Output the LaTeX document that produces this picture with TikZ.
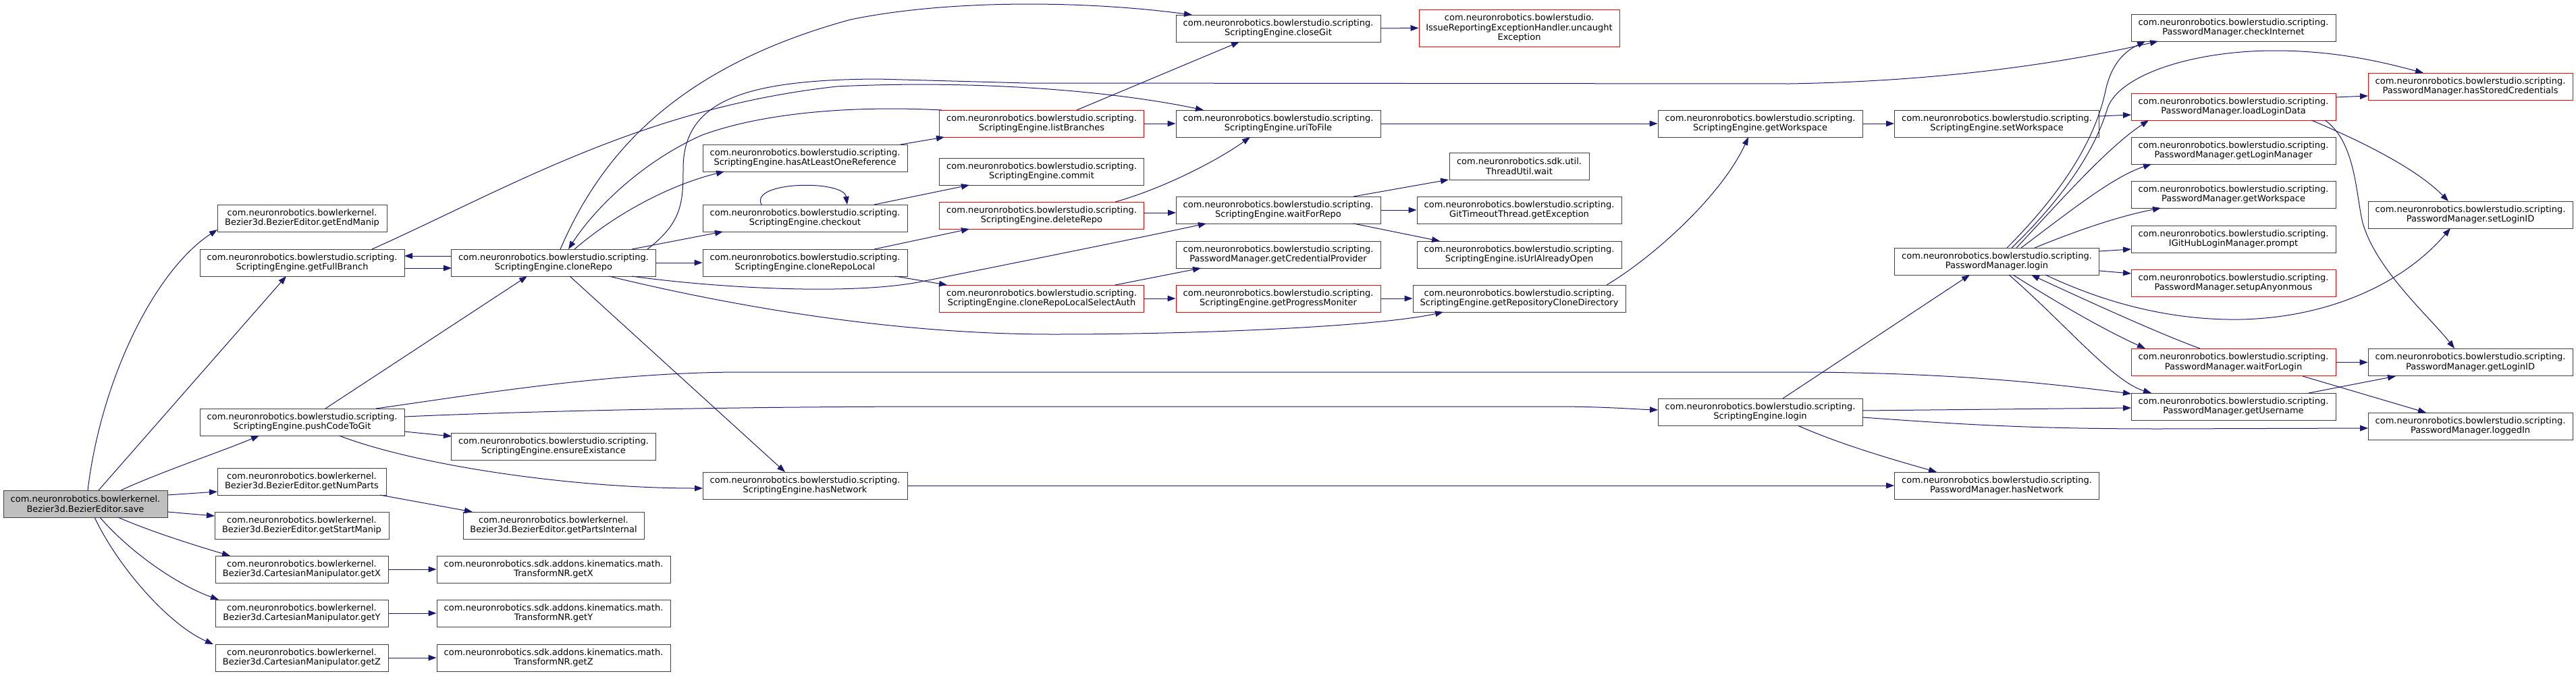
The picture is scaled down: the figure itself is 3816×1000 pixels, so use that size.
\documentclass[tikz,border=0pt]{standalone}
\usepackage{fontspec}
\usetikzlibrary{arrows.meta,calc}
\newfontfamily\djv{DejaVu Sans}
\definecolor{edgec}{HTML}{191970}
\definecolor{boxc}{HTML}{404040}
\definecolor{rootfill}{HTML}{BFBFBF}
\tikzset{
  nd/.style={draw=boxc, line width=0.75pt, fill=white, inner sep=0pt, minimum height=30pt,
    align=center, text=black, font={\djv\fontsize{9.75}{11}\selectfont}},
  trunc/.style={nd, draw=red},
  root/.style={nd, fill=rootfill},
  wd/.style={minimum width=#1*0.75pt},
  ed/.style={draw=edgec, line width=0.75pt, -{Triangle[length=9pt,width=6.5pt]}},
}
\begin{document}
\begin{tikzpicture}[x=0.75pt,y=-0.75pt]
\fill[white] (0,0) rectangle (3816,1000);
\useasboundingbox (0,0) rectangle (3816,1000);
% column 0-1
\node[root, wd=243] (save) at (126.5,746) {com.neuronrobotics.bowlerkernel.\\Bezier3d.BezierEditor.save};
\node[nd, wd=251] (endmanip) at (447.5,323) {com.neuronrobotics.bowlerkernel.\\Bezier3d.BezierEditor.getEndManip};
\node[nd, wd=303] (fullbranch) at (447.5,389) {com.neuronrobotics.bowlerstudio.scripting.\\ScriptingEngine.getFullBranch};
\node[nd, wd=303] (push) at (447.5,625) {com.neuronrobotics.bowlerstudio.scripting.\\ScriptingEngine.pushCodeToGit};
\node[nd, wd=250] (numparts) at (447,713) {com.neuronrobotics.bowlerkernel.\\Bezier3d.BezierEditor.getNumParts};
\node[nd, wd=258] (startmanip) at (447,778) {com.neuronrobotics.bowlerkernel.\\Bezier3d.BezierEditor.getStartManip};
\node[nd, wd=256] (cx) at (447,843) {com.neuronrobotics.bowlerkernel.\\Bezier3d.CartesianManipulator.getX};
\node[nd, wd=256] (cy) at (447,908) {com.neuronrobotics.bowlerkernel.\\Bezier3d.CartesianManipulator.getY};
\node[nd, wd=256] (cz) at (447,974) {com.neuronrobotics.bowlerkernel.\\Bezier3d.CartesianManipulator.getZ};
% column 2
\node[nd, wd=303] (clone) at (820,389) {com.neuronrobotics.bowlerstudio.scripting.\\ScriptingEngine.cloneRepo};
\node[nd, wd=303] (ensure) at (820,661) {com.neuronrobotics.bowlerstudio.scripting.\\ScriptingEngine.ensureExistance};
\node[nd, wd=268] (partsint) at (820,778) {com.neuronrobotics.bowlerkernel.\\Bezier3d.BezierEditor.getPartsInternal};
\node[nd, wd=346] (tx) at (820,843) {com.neuronrobotics.sdk.addons.kinematics.math.\\TransformNR.getX};
\node[nd, wd=346] (ty) at (820,908) {com.neuronrobotics.sdk.addons.kinematics.math.\\TransformNR.getY};
\node[nd, wd=346] (tz) at (820,974) {com.neuronrobotics.sdk.addons.kinematics.math.\\TransformNR.getZ};
% column 3
\node[nd, wd=303] (hasref) at (1192.5,234) {com.neuronrobotics.bowlerstudio.scripting.\\ScriptingEngine.hasAtLeastOneReference};
\node[nd, wd=303] (checkout) at (1192.5,323) {com.neuronrobotics.bowlerstudio.scripting.\\ScriptingEngine.checkout};
\node[nd, wd=303] (clonelocal) at (1192.5,389) {com.neuronrobotics.bowlerstudio.scripting.\\ScriptingEngine.cloneRepoLocal};
\node[nd, wd=303] (sehasnet) at (1192.5,719) {com.neuronrobotics.bowlerstudio.scripting.\\ScriptingEngine.hasNetwork};
% column 4
\node[trunc, wd=303] (listbr) at (1543,183) {com.neuronrobotics.bowlerstudio.scripting.\\ScriptingEngine.listBranches};
\node[nd, wd=303] (commit) at (1543,254) {com.neuronrobotics.bowlerstudio.scripting.\\ScriptingEngine.commit};
\node[trunc, wd=303] (deleterepo) at (1543,319) {com.neuronrobotics.bowlerstudio.scripting.\\ScriptingEngine.deleteRepo};
\node[trunc, wd=303] (selectauth) at (1543,442) {com.neuronrobotics.bowlerstudio.scripting.\\ScriptingEngine.cloneRepoLocalSelectAuth};
% column 5
\node[nd, wd=303] (closegit) at (1893.5,42) {com.neuronrobotics.bowlerstudio.scripting.\\ScriptingEngine.closeGit};
\node[nd, wd=303] (uritofile) at (1893.5,183) {com.neuronrobotics.bowlerstudio.scripting.\\ScriptingEngine.uriToFile};
\node[nd, wd=303] (waitrepo) at (1893.5,311) {com.neuronrobotics.bowlerstudio.scripting.\\ScriptingEngine.waitForRepo};
\node[nd, wd=303] (credprov) at (1893.5,377) {com.neuronrobotics.bowlerstudio.scripting.\\PasswordManager.getCredentialProvider};
\node[trunc, wd=303] (progmon) at (1893.5,442) {com.neuronrobotics.bowlerstudio.scripting.\\ScriptingEngine.getProgressMoniter};
% column 6
\node[trunc, wd=297, minimum height=41.25pt] (uncaught) at (2250.5,41.5) {com.neuronrobotics.bowlerstudio.\\IssueReportingExceptionHandler.uncaught\\Exception};
\node[nd, wd=207] (threadwait) at (2250.5,246) {com.neuronrobotics.sdk.util.\\ThreadUtil.wait};
\node[nd, wd=303] (gitto) at (2250.5,311) {com.neuronrobotics.bowlerstudio.scripting.\\GitTimeoutThread.getException};
\node[nd, wd=303] (urlopen) at (2250.5,377) {com.neuronrobotics.bowlerstudio.scripting.\\ScriptingEngine.isUrlAlreadyOpen};
\node[nd, wd=315] (clonedir) at (2250.5,442) {com.neuronrobotics.bowlerstudio.scripting.\\ScriptingEngine.getRepositoryCloneDirectory};
% column 7
\node[nd, wd=303] (segetws) at (2607.5,183) {com.neuronrobotics.bowlerstudio.scripting.\\ScriptingEngine.getWorkspace};
\node[nd, wd=303] (selogin) at (2607.5,610) {com.neuronrobotics.bowlerstudio.scripting.\\ScriptingEngine.login};
% column 8
\node[nd, wd=303] (setws) at (2958,183) {com.neuronrobotics.bowlerstudio.scripting.\\ScriptingEngine.setWorkspace};
\node[nd, wd=303] (pmlogin) at (2958,387) {com.neuronrobotics.bowlerstudio.scripting.\\PasswordManager.login};
\node[nd, wd=303] (pmhasnet) at (2958,719) {com.neuronrobotics.bowlerstudio.scripting.\\PasswordManager.hasNetwork};
% column 9
\node[nd, wd=303] (checkinet) at (3308.5,41) {com.neuronrobotics.bowlerstudio.scripting.\\PasswordManager.checkInternet};
\node[trunc, wd=303] (loadlogin) at (3308.5,158) {com.neuronrobotics.bowlerstudio.scripting.\\PasswordManager.loadLoginData};
\node[nd, wd=303] (getloginmgr) at (3308.5,223) {com.neuronrobotics.bowlerstudio.scripting.\\PasswordManager.getLoginManager};
\node[nd, wd=303] (pmgetws) at (3308.5,288) {com.neuronrobotics.bowlerstudio.scripting.\\PasswordManager.getWorkspace};
\node[nd, wd=303] (prompt) at (3308.5,354) {com.neuronrobotics.bowlerstudio.scripting.\\IGitHubLoginManager.prompt};
\node[trunc, wd=303] (setupanon) at (3308.5,419) {com.neuronrobotics.bowlerstudio.scripting.\\PasswordManager.setupAnyonmous};
\node[trunc, wd=303] (waitlogin) at (3308.5,536.5) {com.neuronrobotics.bowlerstudio.scripting.\\PasswordManager.waitForLogin};
\node[nd, wd=303] (getuser) at (3308.5,602) {com.neuronrobotics.bowlerstudio.scripting.\\PasswordManager.getUsername};
% column 10
\node[trunc, wd=303] (hasstored) at (3659.5,128) {com.neuronrobotics.bowlerstudio.scripting.\\PasswordManager.hasStoredCredentials};
\node[nd, wd=303] (setloginid) at (3659.5,318) {com.neuronrobotics.bowlerstudio.scripting.\\PasswordManager.setLoginID};
\node[nd, wd=303] (getloginid) at (3659.5,536.5) {com.neuronrobotics.bowlerstudio.scripting.\\PasswordManager.getLoginID};
\node[nd, wd=303] (loggedin) at (3659.5,631) {com.neuronrobotics.bowlerstudio.scripting.\\PasswordManager.loggedIn};
% ---------------- edges ----------------
% from save
\draw[ed] ($(save)+(3.5,-20)$) .. controls (150,560) and (230,400) .. ($(endmanip)+(-125.5,17)$);
\draw[ed] ($(save)+(19.5,-20)$) -- ($(fullbranch)+(-23.5,20)$);
\draw[ed] ($(save)+(52.5,-20)$) .. controls (240,698) and (330,668) .. ($(push)+(-63.5,20)$);
\draw[ed] ($(save)+(121.5,-13)$) -- ($(numparts)+(-125,15)$);
\draw[ed] ($(save)+(121.5,12)$) -- ($(startmanip)+(-129,-14)$);
\draw[ed] ($(save)+(48.5,20)$) .. controls (220,786) and (290,808) .. ($(cx)+(-106,-20)$);
\draw[ed] ($(save)+(21.5,20)$) .. controls (190,815) and (260,865) .. ($(cy)+(-123,-20)$);
\draw[ed] ($(save)+(13.5,20)$) .. controls (175,840) and (250,925) .. ($(cz)+(-131,-20)$);
\draw[ed] (cx) -- (tx);
\draw[ed] (cy) -- (ty);
\draw[ed] (cz) -- (tz);
\draw[ed] ($(numparts)+(116,20)$) -- ($(partsint)+(-120,-20)$);
% from pushCodeToGit
\draw[ed] ($(push)+(34.5,-20)$) -- ($(clone)+(-39,20)$);
\draw[ed] ($(push)+(109.5,-20)$) .. controls (700,585) and (900,551) .. (1100,551) -- (2650,551) .. controls (2900,551) and (3050,570) .. ($(getuser)+(-151.5,-19)$);
\draw[ed] ($(push)+(151.5,-8)$) .. controls (800,608) and (1100,602) .. (1400,602) -- (2300,602) .. controls (2380,602) and (2420,606) .. ($(selogin)+(-151.5,-3)$);
\draw[ed] ($(push)+(151.5,14)$) -- ($(ensure)+(-151,-15)$);
\draw[ed] ($(push)+(54.5,20)$) .. controls (620,690) and (850,723) .. ($(sehasnet)+(-151.5,4)$);
% getFullBranch / cloneRepo
\draw[ed] ($(clone)+(-151,-10)$) -- ($(fullbranch)+(151.5,-10)$);
\draw[ed] ($(fullbranch)+(151.5,8)$) -- ($(clone)+(-151,8)$);
\draw[ed] ($(fullbranch)+(103.5,-20)$) .. controls (750,280) and (950,160) .. (1240,128) .. controls (1450,118) and (1650,135) .. ($(uritofile)+(-110.5,-20)$);
\draw[ed] ($(clone)+(10,-20)$) .. controls (890,230) and (1000,100) .. (1260,29) .. controls (1400,0) and (1600,0) .. ($(closegit)+(-127.5,-20)$);
\draw[ed] ($(clone)+(139,-20)$) .. controls (1010,330) and (1012,300) .. (1012,250) .. controls (1012,150) and (1100,118) .. (1300,117) -- (1520,123) -- (2650,124) .. controls (2900,120) and (3080,88) .. ($(checkinet)+(-111.5,20)$);
\draw[ed] ($(listbr)+(-148,-20)$) .. controls (1300,158) and (1150,160) .. (1040,200) .. controls (950,240) and (880,310) .. ($(clone)+(22,-20)$);
\draw[ed] ($(clone)+(31,-20)$) .. controls (920,310) and (1000,272) .. ($(hasref)+(-119.5,20)$);
\draw[ed] ($(clone)+(116,-20)$) -- ($(checkout)+(-121.5,20)$);
\draw[ed] (clone) -- (clonelocal);
\draw[ed] ($(clone)+(24,20)$) -- ($(sehasnet)+(-29.5,-20)$);
\draw[ed] ($(clone)+(116,20)$) .. controls (1050,425) and (1250,438) .. (1360,418) .. controls (1500,390) and (1650,360) .. ($(waitrepo)+(-106.5,20)$);
\draw[ed] ($(clone)+(82,20)$) .. controls (1050,445) and (1300,495) .. (1560,495) .. controls (1800,495) and (2050,482) .. ($(clonedir)+(-112.5,20)$);
% column 3 -> 4
\draw[ed] ($(clonelocal)+(102.5,-20)$) -- ($(deleterepo)+(-107,20)$);
\draw[ed] ($(clonelocal)+(133.5,20)$) -- ($(selectauth)+(-140,-20)$);
\draw[ed] ($(hasref)+(141.5,-20)$) -- ($(listbr)+(-144,20)$);
\draw[ed] ($(checkout)+(102.5,-20)$) -- ($(commit)+(-107,20)$);
\draw[ed] ($(checkout)+(-64.5,-20)$) .. controls (1110,268) and (1250,266) .. ($(checkout)+(62.5,-20)$);
% column 4 -> 5
\draw[ed] ($(listbr)+(52,-20)$) -- ($(closegit)+(-57.5,20)$);
\draw[ed] (listbr) -- (uritofile);
\draw[ed] ($(deleterepo)+(109,-20)$) .. controls (1720,280) and (1800,240) .. ($(uritofile)+(-41.5,20)$);
\draw[ed] ($(deleterepo)+(151,-4)$) -- ($(waitrepo)+(-151.5,4)$);
\draw[ed] ($(selectauth)+(109,-20)$) -- ($(credprov)+(-114.5,20)$);
\draw[ed] (selectauth) -- (progmon);
% column 5 -> 6
\draw[ed] (closegit.east) -- (uncaught.west);
\draw[ed] (uritofile) -- (segetws);
\draw[ed] ($(waitrepo)+(111.5,-20)$) -- ($(threadwait)+(-104.5,20)$);
\draw[ed] (waitrepo) -- (gitto);
\draw[ed] ($(waitrepo)+(111.5,20)$) -- ($(urlopen)+(-117.5,-20)$);
\draw[ed] (progmon) -- (clonedir);
\draw[ed] ($(clonedir)+(129.5,-20)$) .. controls (2450,380) and (2550,290) .. ($(segetws)+(-17.5,20)$);
% column 7 -> 8
\draw[ed] (segetws) -- (setws);
\draw[ed] ($(setws)+(152,-11)$) -- ($(loadlogin)+(-151.5,12)$);
\draw[ed] ($(selogin)+(33.5,-20)$) -- ($(pmlogin)+(-40,20)$);
\draw[ed] ($(selogin)+(151.5,-2)$) -- ($(getuser)+(-151.5,2)$);
\draw[ed] ($(selogin)+(151.5,8)$) .. controls (2900,628) and (3000,635) .. (3200,635) -- ($(loggedin)+(-151.5,3)$);
\draw[ed] ($(selogin)+(55.5,20)$) .. controls (2730,660) and (2820,685) .. ($(pmhasnet)+(-89,-20)$);
\draw[ed] (sehasnet) -- (pmhasnet);
% PasswordManager.login
\draw[ed] ($(pmlogin)+(15,-20)$) .. controls (3080,260) and (3110,180) .. (3120,130) .. controls (3130,90) and (3150,75) .. ($(checkinet)+(-130.5,20)$);
\draw[ed] ($(pmlogin)+(22,-20)$) .. controls (3080,270) and (3110,200) .. (3122,160) .. controls (3140,110) and (3250,75) .. (3370,75) .. controls (3460,75) and (3530,92) .. ($(hasstored)+(-69.5,-20)$);
\draw[ed] ($(pmlogin)+(29,-20)$) .. controls (3050,300) and (3120,220) .. ($(loadlogin)+(-125.5,20)$);
\draw[ed] ($(pmlogin)+(36,-20)$) .. controls (3070,310) and (3130,262) .. ($(getloginmgr)+(-121.5,20)$);
\draw[ed] ($(pmlogin)+(56,-20)$) .. controls (3080,340) and (3140,320) .. ($(pmgetws)+(-107.5,20)$);
\draw[ed] ($(pmlogin)+(152,-15)$) -- ($(prompt)+(-151.5,15)$);
\draw[ed] ($(pmlogin)+(152,14)$) -- ($(setupanon)+(-151.5,-14)$);
\draw[ed] ($(pmlogin)+(72,20)$) .. controls (3100,440) and (3200,475) .. (3320,473) .. controls (3450,470) and (3560,420) .. ($(setloginid)+(-29.5,20)$);
\draw[ed] ($(pmlogin)+(24,20)$) .. controls (3050,450) and (3120,490) .. ($(waitlogin)+(-130.5,-20.5)$);
\draw[ed] ($(waitlogin)+(-49.5,-20.5)$) .. controls (3200,495) and (3080,440) .. ($(pmlogin)+(51,20)$);
\draw[ed] ($(pmlogin)+(18,20)$) .. controls (3060,480) and (3130,565) .. ($(getuser)+(-121.5,-20)$);
% right columns
\draw[ed] ($(loadlogin)+(151.5,-14)$) -- ($(hasstored)+(-151.5,14)$);
\draw[ed] ($(loadlogin)+(115.5,20)$) .. controls (3500,210) and (3580,250) .. ($(setloginid)+(-32.5,-20)$);
\draw[ed] ($(loadlogin)+(135.5,20)$) .. controls (3490,210) and (3490,290) .. (3500,330) .. controls (3520,400) and (3600,470) .. ($(getloginid)+(-23.5,-20.5)$);
\draw[ed] (waitlogin) -- (getloginid);
\draw[ed] ($(waitlogin)+(102.5,20.5)$) -- ($(loggedin)+(-65.5,-20)$);
\draw[ed] ($(getuser)+(111.5,-20)$) -- ($(getloginid)+(-110.5,20.5)$);
\end{tikzpicture}
\end{document}
